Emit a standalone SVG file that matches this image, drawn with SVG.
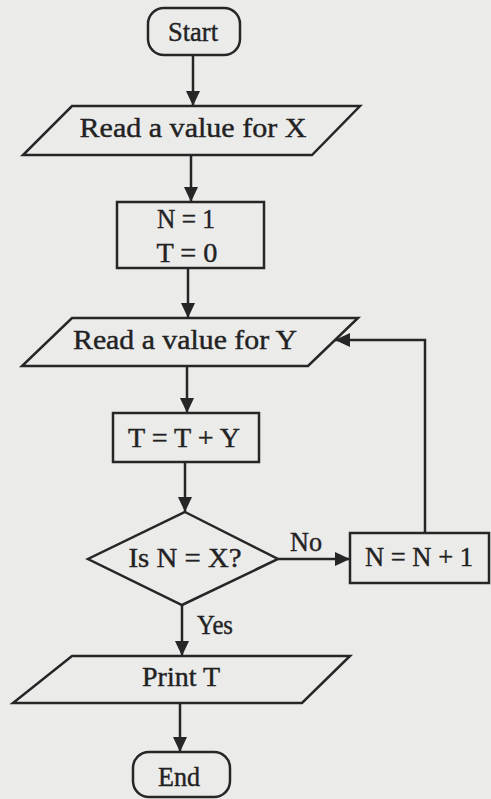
<svg xmlns="http://www.w3.org/2000/svg" width="491" height="799" viewBox="0 0 491 799">
<defs>
<marker id="ah" markerUnits="userSpaceOnUse" markerWidth="16" markerHeight="14" refX="15" refY="7" orient="auto">
<path d="M0,0 L15,7 L0,14 Z" fill="#262626"/>
</marker>
<style>
.s{fill:none;stroke:#262626;stroke-width:2.5;stroke-linejoin:miter}
.c{fill:none;stroke:#262626;stroke-width:2.5}
text{font-family:"Liberation Serif","Times New Roman",serif;font-size:27px;fill:#222;stroke:#222;stroke-width:0.4;text-anchor:middle}
</style>
</defs>
<rect width="491" height="799" fill="#ebebea"/>
<g id="connectors">
<path class="c" d="M193,55 V106" marker-end="url(#ah)"/>
<path class="c" d="M191,155 V202" marker-end="url(#ah)"/>
<path class="c" d="M188,268 V318" marker-end="url(#ah)"/>
<path class="c" d="M187,366 V413" marker-end="url(#ah)"/>
<path class="c" d="M185,462 V512" marker-end="url(#ah)"/>
<path class="c" d="M278,559 H350" marker-end="url(#ah)"/>
<path class="c" d="M425,533 V340 H335" marker-end="url(#ah)"/>
<path class="c" d="M182,605 V656" marker-end="url(#ah)"/>
<path class="c" d="M180,703 V752" marker-end="url(#ah)"/>
<text x="306" y="551" textLength="32" lengthAdjust="spacingAndGlyphs">No</text>
<text x="215" y="634" textLength="36" lengthAdjust="spacingAndGlyphs">Yes</text>
</g>
<g id="start">
<rect class="s" x="148" y="8" width="92" height="47" rx="16"/>
<text x="193" y="41" textLength="50" lengthAdjust="spacingAndGlyphs">Start</text>
</g>
<g id="readX">
<polygon class="s" points="72,106 360,106 312,155 23,155"/>
<text x="193" y="137" textLength="227" lengthAdjust="spacingAndGlyphs">Read a value for X</text>
</g>
<g id="init">
<rect class="s" x="117" y="202" width="147" height="66"/>
<text x="186" y="228" textLength="58" lengthAdjust="spacingAndGlyphs">N = 1</text>
<text x="187" y="262" textLength="61" lengthAdjust="spacingAndGlyphs">T = 0</text>
</g>
<g id="readY">
<polygon class="s" points="72,318 358,318 308,366 22,366"/>
<text x="185" y="349" textLength="224" lengthAdjust="spacingAndGlyphs">Read a value for Y</text>
</g>
<g id="sum">
<rect class="s" x="113" y="413" width="146" height="49"/>
<text x="184" y="447" textLength="112" lengthAdjust="spacingAndGlyphs">T = T + Y</text>
</g>
<g id="decision">
<polygon class="s" points="185,512 278,559 182,605 88,559"/>
<text x="185" y="567" textLength="113" lengthAdjust="spacingAndGlyphs">Is N = X?</text>
</g>
<g id="increment">
<rect class="s" x="350" y="533" width="139" height="50"/>
<text x="419" y="566" textLength="108" lengthAdjust="spacingAndGlyphs">N = N + 1</text>
</g>
<g id="print">
<polygon class="s" points="72,656 350,656 302,703 13,703"/>
<text x="181" y="686" textLength="78" lengthAdjust="spacingAndGlyphs">Print T</text>
</g>
<g id="end">
<rect class="s" x="133" y="752" width="97" height="45" rx="16"/>
<text x="179" y="786" textLength="42" lengthAdjust="spacingAndGlyphs">End</text>
</g>
</svg>
